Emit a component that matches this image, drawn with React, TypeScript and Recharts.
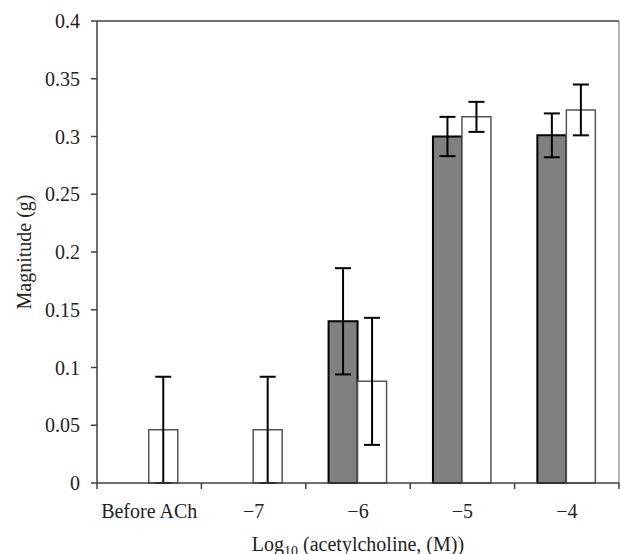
import React from 'react';
import { BarChart, Bar, XAxis, YAxis, ErrorBar, ReferenceLine, Label } from 'recharts';

const categories = ['Before ACh', '\u22127', '\u22126', '\u22125', '\u22124'];
const filledValues = [0, 0, 0.14, 0.3, 0.301];
const filledErrors = [0, 0, 0.046, 0.017, 0.019];
const openValues = [0.046, 0.046, 0.088, 0.317, 0.323];
const openErrors = [0.046, 0.046, 0.055, 0.013, 0.022];
const yTicks = [0, 0.05, 0.1, 0.15, 0.2, 0.25, 0.3, 0.35, 0.4];

// each category sits in the middle of a unit slot on a numeric axis
const data = categories.map((name, i) => ({
  name,
  pos: i + 0.5,
  filled: filledValues[i],
  filledErr: filledErrors[i],
  open: openValues[i],
  openErr: openErrors[i],
}));

// ticks sit on category boundaries, labels in between
const xPositions = [0, 0.5, 1, 1.5, 2, 2.5, 3, 3.5, 4, 4.5, 5];

const FONT = 'Liberation Serif, DejaVu Serif, serif';
const AXIS = '#404040';

const XTick = (props: any) => {
  const { x, y, payload } = props;
  const v = payload.value;
  if (Number.isInteger(v)) {
    return <line x1={x} x2={x} y1={y} y2={y + 6} stroke={AXIS} strokeWidth={1.5} />;
  }
  return (
    <text x={x} y={y + 28} textAnchor="middle" dominantBaseline="central"
      fontFamily={FONT} fontSize={20} fill="#222">
      {categories[Math.floor(v)]}
    </text>
  );
};

const XTitle = (props: any) => {
  const { x, width, y } = props.viewBox;
  return (
    <text x={x + width / 2} y={y + 68} textAnchor="middle" fontFamily={FONT} fontSize={20} fill="#222">
      Log<tspan fontSize={14} dy={5}>10</tspan><tspan dy={-5}> (acetylcholine, (M))</tspan>
    </text>
  );
};

const YTitle = (props: any) => {
  const { y, height } = props.viewBox;
  const cy = y + height / 2;
  return (
    <text x={24} y={cy} transform={`rotate(-90, 24, ${cy})`} textAnchor="middle"
      dominantBaseline="central" fontFamily={FONT} fontSize={20} fill="#222">
      Magnitude (g)
    </text>
  );
};

const App: React.FC = () => {
  return (
    <div>
      <style>{'body{margin:0} svg text{font-family:"Liberation Serif","DejaVu Serif",serif}'}</style>
      <BarChart width={620} height={554} data={data}
        margin={{ top: 21, right: 1, left: 0, bottom: 0 }}
        barCategoryGap="21.8%" barGap={0}>
        <XAxis dataKey="pos" type="number" domain={[0, 5]} ticks={xPositions} allowDataOverflow
          interval={0} height={71} tickLine={false} tickSize={0} tickMargin={0}
          axisLine={{ stroke: AXIS, strokeWidth: 1.5 }} tick={<XTick />}>
          <Label content={<XTitle />} />
        </XAxis>
        <YAxis width={97} domain={[0, 0.4]} ticks={yTicks} interval={0}
          tickSize={6} tickMargin={11}
          axisLine={{ stroke: AXIS, strokeWidth: 1.5 }} tickLine={{ stroke: AXIS, strokeWidth: 1.5 }}
          tick={{ fontFamily: FONT, fontSize: 20, fill: '#222' }}>
          <Label content={<YTitle />} />
        </YAxis>
        <ReferenceLine y={0.4} stroke={AXIS} strokeWidth={1.5} />
        <ReferenceLine x={5} stroke="#666" strokeWidth={1} />
        <Bar dataKey="filled" fill="#808080" stroke="#000" strokeWidth={2} isAnimationActive={false}>
          <ErrorBar dataKey="filledErr" width={8} stroke="#000" strokeWidth={2} />
        </Bar>
        <Bar dataKey="open" fill="#fff" stroke="#555" strokeWidth={1.5} isAnimationActive={false}>
          <ErrorBar dataKey="openErr" width={8} stroke="#000" strokeWidth={2} />
        </Bar>
      </BarChart>
    </div>
  );
};

export default App;
